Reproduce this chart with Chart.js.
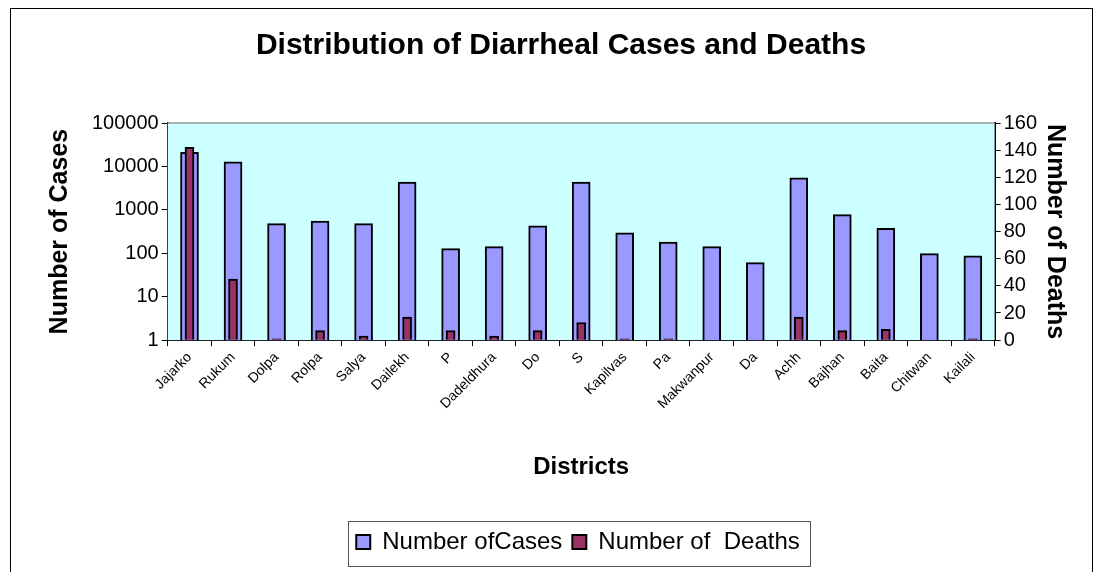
<!DOCTYPE html>
<html>
<head>
<meta charset="utf-8">
<script src="https://cdn.jsdelivr.net/npm/chart.js@4"></script>
<style>
  body { margin: 0; background: #fff; }
  #wrap { width: 1102px; height: 572px; }
</style>
</head>
<body>
<div id="wrap"><canvas id="myChart" width="1102" height="572"></canvas></div>
<script>
// district labels along the x-axis (as printed, clipped)
var districts = ["Jajarko", "Rukum", "Dolpa", "Rolpa", "Salya", "Dailekh", "P", "Dadeldhura", "Do", "S",
  "Kapilvas", "Pa", "Makwanpur", "Da", "Achh", "Bajhan", "Baita", "Chitwan", "Kailali"];
// values
var cases = [21000, 12800, 480, 550, 480, 4350, 128, 142, 430, 4350, 295, 180, 142, 61, 5450, 775, 375, 98, 87];
var deaths = [142, 45, 1, 7, 3, 17, 7, 3, 7, 13, 1, 1, 0, 0, 17, 7, 8, 0, 1];
var caseTicks = [1, 10, 100, 1000, 10000, 100000];

Chart.defaults.font.family = "'Liberation Sans', Arial, sans-serif";
Chart.defaults.color = "#000";

// background of plot area, outer frame and box round the legend
var frame = {
  id: 'frame',
  afterLayout: function(chart) {
    // legend sits a little right of centre in the original, title a bit left
    var l = chart.legend, dx = 7;
    l.left += dx;
    l.right += dx;
    (l.legendHitBoxes || []).forEach(function(h) { h.left += dx; });
    var t = chart.titleBlock;
    if (t) { t.left -= 10; t.right -= 10; }
  },
  beforeDatasetsDraw: function(chart) {
    var c = chart.ctx, a = chart.chartArea;
    c.save();
    c.fillStyle = "#CCFFFF";
    c.fillRect(a.left, a.top, a.right - a.left, a.bottom - a.top);
    c.strokeStyle = "#999";
    c.lineWidth = 1.5;
    c.beginPath();
    c.moveTo(a.left, a.top);
    c.lineTo(a.right, a.top);
    c.stroke();
    c.restore();
  },
  afterDraw: function(chart) {
    var c = chart.ctx;
    c.save();
    c.strokeStyle = "#000";
    c.lineWidth = 1;
    c.strokeRect(10.5, 8.5, 1082, 570);
    var hb = chart.legend.legendHitBoxes;
    if (hb && hb.length) {
      var first = hb[0], last = hb[hb.length - 1];
      var cy = first.top + first.height / 2;
      var x0 = Math.round(first.left - 8) + 0.5;
      var x1 = Math.round(last.left + last.width + 10) + 0.5;
      c.strokeStyle = "#555";
      c.strokeRect(x0, Math.round(cy - 21) + 0.5, x1 - x0, 45);
    }
    c.restore();
  }
};

var ctx = document.getElementById("myChart");
var myChart = new Chart(ctx, {
  type: 'bar',
  data: {
    labels: districts,
    datasets: [
      {
        label: "Number ofCases",
        data: cases,
        yAxisID: 'y',
        backgroundColor: "#9999FF",
        borderColor: "#000",
        borderWidth: 2,
        barThickness: 18,
        grouped: false,
        order: 1
      },
      {
        label: "Number of  Deaths",
        data: deaths,
        yAxisID: 'y1',
        backgroundColor: "#993366",
        borderColor: "#000",
        borderWidth: 2,
        barThickness: 9,
        grouped: false,
        order: 0
      }
    ]
  },
  options: {
    responsive: false,
    animation: false,
    layout: { padding: { left: 45, right: 5, top: 20, bottom: 8 } },
    plugins: {
      title: {
        display: true,
        text: "Distribution of Diarrheal Cases and Deaths",
        font: { size: 30, weight: 'bold' },
        padding: { top: 8, bottom: 59 }
      },
      legend: {
        position: 'bottom',
        labels: {
          font: { size: 24 },
          boxWidth: 14,
          boxHeight: 14,
          padding: 10,
          sort: function(a, b) { return a.datasetIndex - b.datasetIndex; }
        }
      },
      tooltip: { enabled: false }
    },
    scales: {
      x: {
        grid: { drawOnChartArea: false, tickLength: 6, color: "#000" },
        border: { color: "#000", width: 2 },
        ticks: { font: { size: 14 }, maxRotation: 45, minRotation: 45, autoSkip: false },
        title: { display: true, text: "Districts", font: { size: 24, weight: 'bold' }, padding: { top: 38, bottom: 38 } }
      },
      y: {
        type: 'logarithmic',
        position: 'left',
        min: 1,
        max: 100000,
        afterBuildTicks: function(s) { s.ticks = caseTicks.map(function(v) { return { value: v }; }); },
        ticks: { font: { size: 20 }, autoSkip: false, callback: function(v) { return String(v); } },
        grid: { drawOnChartArea: false, tickLength: 6, color: "#000" },
        border: { color: "#000", width: 2 },
        title: { display: true, text: "Number of Cases", font: { size: 25, weight: 'bold' }, padding: { top: 0, bottom: 14 } }
      },
      y1: {
        type: 'linear',
        position: 'right',
        min: 0,
        max: 160,
        ticks: { stepSize: 20, font: { size: 20 }, autoSkip: false },
        grid: { drawOnChartArea: false, tickLength: 6, color: "#000" },
        border: { color: "#000", width: 2 },
        title: { display: true, text: "Number of Deaths", font: { size: 25, weight: 'bold' }, padding: { top: 27, bottom: 0 } }
      }
    }
  },
  plugins: [frame]
});
</script>
</body>
</html>
